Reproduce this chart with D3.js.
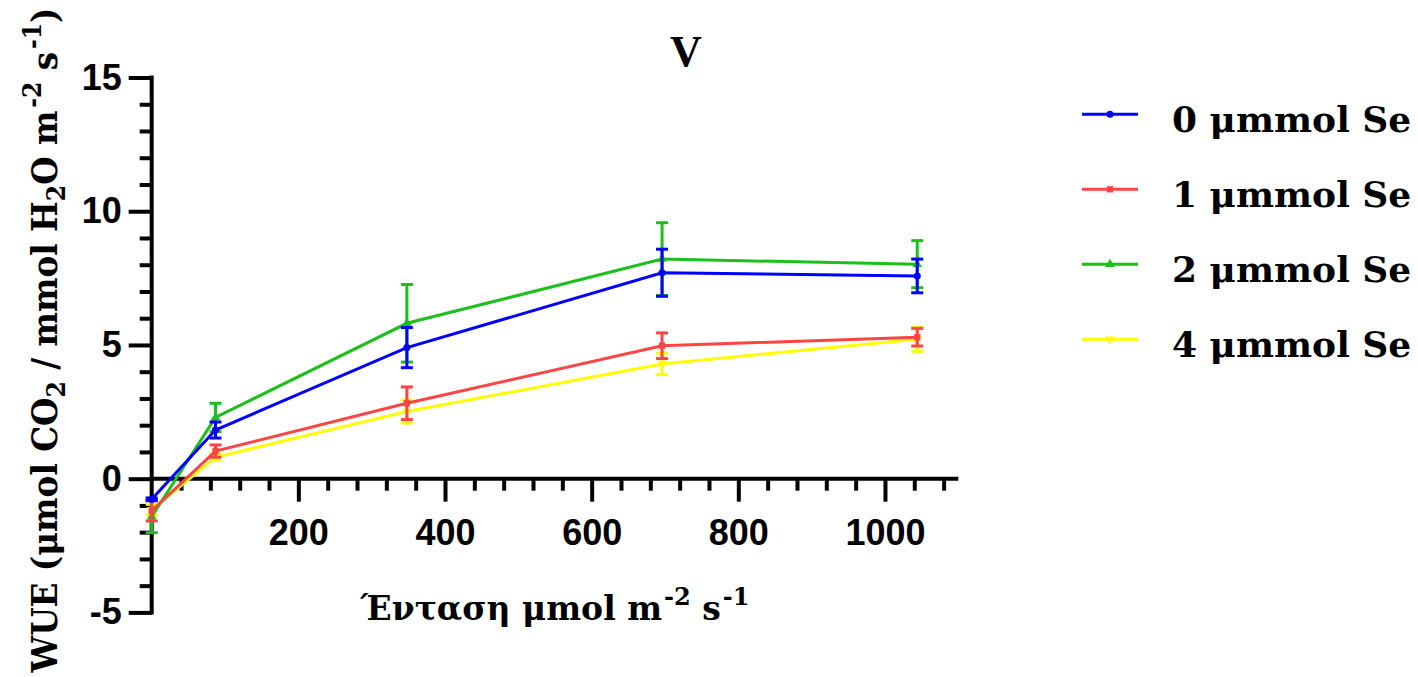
<!DOCTYPE html>
<html>
<head>
<meta charset="utf-8">
<script src="https://cdn.jsdelivr.net/npm/d3@7"></script>
<style>
  html, body { margin: 0; padding: 0; background: #fff; }
  svg { display: block; }
</style>
</head>
<body>
<svg id="chart" width="1418" height="677"></svg>
<script>
// ---- data ----
const xValues = [0, 87, 348, 696, 1044];
const seriesNames = ["0 μmmol Se", "1 μmmol Se", "2 μmmol Se", "4 μmmol Se"];
const seriesColors = ["#0000ff", "#ff4444", "#1cbf1c", "#ffff00"];
const se0 = [-0.77, 1.82, 4.90, 7.70, 7.58];
const se0Err = [0.05, 0.30, 0.75, 0.88, 0.63];
const se1 = [-1.20, 1.03, 2.82, 4.97, 5.29];
const se1Err = [0.38, 0.23, 0.61, 0.48, 0.33];
const se2 = [-1.42, 2.29, 5.81, 8.21, 8.02];
const se2Err = [0.60, 0.53, 1.45, 1.36, 0.88];
const se4 = [-1.16, 0.80, 2.51, 4.29, 5.21];
const se4Err = [0.20, 0.12, 0.43, 0.40, 0.45];
const xMajorTicks = [200, 400, 600, 800, 1000];
const yMajorTicks = [-5, 0, 5, 10, 15];
const titleText = "V";

const seriesValues = [se0, se1, se2, se4];
const seriesErrors = [se0Err, se1Err, se2Err, se4Err];
const symbols = [d3.symbolCircle, d3.symbolSquare, d3.symbolTriangle, d3.symbolTriangle];
const symbolRot = [0, 0, 0, 180];

const svg = d3.select("#chart");
const x = d3.scaleLinear().domain([0, 1100]).range([151.7, 958.3]);
const y = d3.scaleLinear().domain([-5, 15]).range([612.4, 77.5]);

const axisFont = "'Liberation Sans', Arial, sans-serif";
const serifFont = "'DejaVu Serif', serif";
const fmt = d => String(d);

// ---- axes ----
const xMinor = d3.range(40, 1100, 40).filter(v => v % 200 !== 0);
const yMinor = d3.range(-5, 16, 1).filter(v => v % 5 !== 0);

const gx = svg.append("g").attr("transform", `translate(0,${y(0)})`);
gx.call(d3.axisBottom(x).tickValues(xMinor).tickSize(12).tickFormat(""));
gx.select(".domain").remove();
gx.selectAll(".tick line").attr("stroke-width", 4).attr("stroke", "#000");
const gxM = svg.append("g").attr("transform", `translate(0,${y(0)})`);
gxM.call(d3.axisBottom(x).tickValues(xMajorTicks).tickSize(23).tickPadding(18).tickFormat(fmt));
gxM.select(".domain").remove();
gxM.selectAll(".tick line").attr("stroke-width", 4).attr("stroke", "#000");
gxM.selectAll(".tick text").attr("font-family", axisFont).attr("font-weight", "bold")
  .attr("font-size", 36).attr("fill", "#000");

const gy = svg.append("g").attr("transform", `translate(${x(0)},0)`);
gy.call(d3.axisLeft(y).tickValues(yMinor).tickSize(12).tickFormat(""));
gy.select(".domain").remove();
gy.selectAll(".tick line").attr("stroke-width", 4).attr("stroke", "#000");
const gyM = svg.append("g").attr("transform", `translate(${x(0)},0)`);
gyM.call(d3.axisLeft(y).tickValues(yMajorTicks).tickSize(23).tickPadding(7).tickFormat(fmt));
gyM.select(".domain").remove();
gyM.selectAll(".tick line").attr("stroke-width", 4).attr("stroke", "#000");
gyM.selectAll(".tick text").attr("font-family", axisFont).attr("font-weight", "bold")
  .attr("font-size", 36).attr("fill", "#000");

// axis lines
svg.append("line").attr("x1", x(0) - 2).attr("x2", x(1100)).attr("y1", y(0)).attr("y2", y(0))
  .attr("stroke", "#000").attr("stroke-width", 4);
svg.append("line").attr("x1", x(0)).attr("x2", x(0)).attr("y1", y(15) - 2).attr("y2", y(-5) + 2)
  .attr("stroke", "#000").attr("stroke-width", 4);

// ---- series ----
const line = d3.line().x((d, i) => x(xValues[i])).y(d => y(d));
const drawOrder = [3, 2, 1, 0];
drawOrder.forEach(s => {
  const g = svg.append("g");
  const vals = seriesValues[s], errs = seriesErrors[s], col = seriesColors[s];
  g.append("path").datum(vals).attr("d", line).attr("fill", "none")
    .attr("stroke", col).attr("stroke-width", 3);
  vals.forEach((v, i) => {
    const cx = x(xValues[i]);
    const yt = y(v + errs[i]), yb = y(v - errs[i]);
    g.append("line").attr("x1", cx).attr("x2", cx).attr("y1", yt).attr("y2", yb)
      .attr("stroke", col).attr("stroke-width", 3);
    [yt, yb].forEach(yy => g.append("line").attr("x1", cx - 6).attr("x2", cx + 6)
      .attr("y1", yy).attr("y2", yy).attr("stroke", col).attr("stroke-width", 3));
    g.append("path").attr("d", d3.symbol().type(symbols[s]).size(40)())
      .attr("transform", `translate(${cx},${y(v)}) rotate(${symbolRot[s]})`)
      .attr("fill", col);
  });
});

// ---- title ----
svg.append("text").attr("x", 686).attr("y", 66).attr("text-anchor", "middle")
  .attr("font-family", "'Liberation Serif', 'Times New Roman', serif").attr("font-weight", "bold")
  .attr("font-size", 44).text(titleText);

// ---- x label ----
const xl = svg.append("text").attr("x", 555).attr("y", 620).attr("text-anchor", "middle")
  .attr("font-family", serifFont).attr("font-weight", "bold").attr("font-size", 33)
  .attr("fill", "#000");
xl.append("tspan").text("Ένταση μmol m");
xl.append("tspan").attr("dx", 2).attr("dy", -15).attr("font-size", 24).text("-2");
xl.append("tspan").attr("dy", 15).text(" s");
xl.append("tspan").attr("dx", 2).attr("dy", -15).attr("font-size", 24).text("-1");

// ---- y label ----
const yl = svg.append("text").attr("transform", "translate(57,340) rotate(-90)")
  .attr("text-anchor", "middle").attr("font-family", serifFont).attr("font-weight", "bold")
  .attr("font-size", 36).attr("fill", "#000")
  .attr("textLength", 665).attr("lengthAdjust", "spacingAndGlyphs");
yl.append("tspan").text("WUE (μmol CO");
yl.append("tspan").attr("dy", 8).attr("font-size", 26).text("2");
yl.append("tspan").attr("dy", -8).text(" / mmol H");
yl.append("tspan").attr("dy", 8).attr("font-size", 26).text("2");
yl.append("tspan").attr("dy", -8).text("O m");
yl.append("tspan").attr("dx", 3).attr("dy", -16).attr("font-size", 26).text("-2");
yl.append("tspan").attr("dy", 16).text(" s");
yl.append("tspan").attr("dx", 3).attr("dy", -16).attr("font-size", 26).text("-1");
yl.append("tspan").attr("dy", 16).text(")");

// ---- legend ----
const lg = svg.append("g");
seriesNames.forEach((name, i) => {
  const ly = 114.3 + i * 75;
  lg.append("line").attr("x1", 1082).attr("x2", 1138).attr("y1", ly).attr("y2", ly)
    .attr("stroke", seriesColors[i]).attr("stroke-width", 3);
  lg.append("path").attr("d", d3.symbol().type(symbols[i]).size(40)())
    .attr("transform", `translate(1110,${ly}) rotate(${symbolRot[i]})`).attr("fill", seriesColors[i]);
  lg.append("text").attr("x", 1172).attr("y", ly + 17.5).attr("font-family", serifFont)
    .attr("font-weight", "bold").attr("font-size", 36).attr("fill", "#000").text(name);
});
</script>
</body>
</html>
